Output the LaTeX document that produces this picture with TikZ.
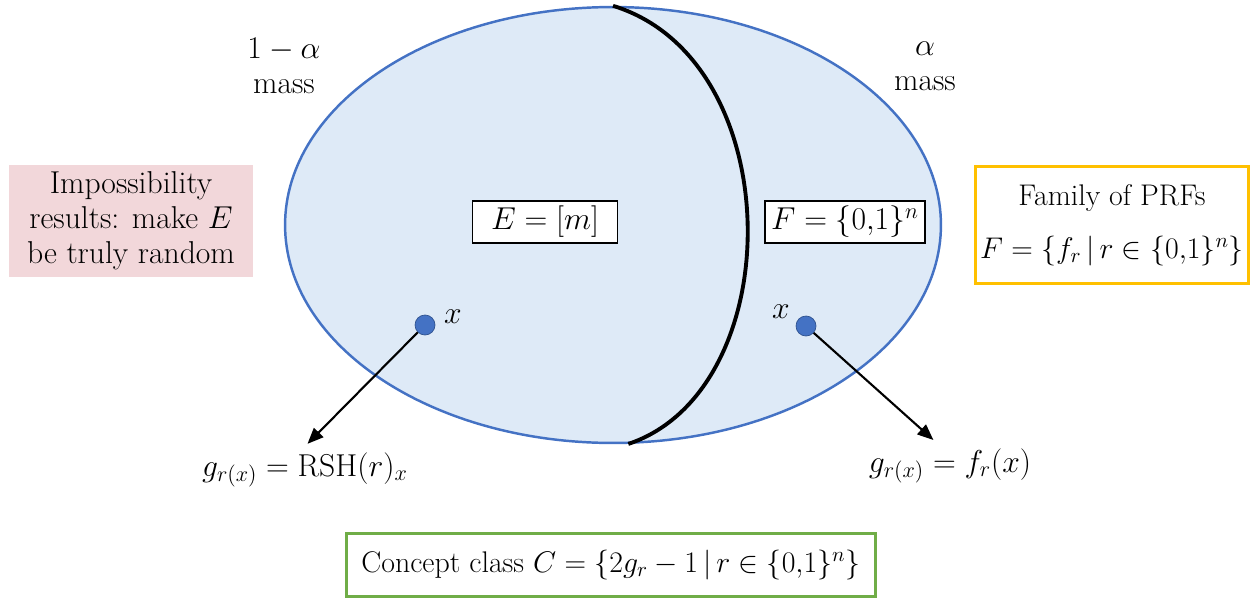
\RequirePackage{fix-cm}
\documentclass[tikz,border=0pt]{standalone}
\usepackage{amsmath,amssymb}
\usetikzlibrary{arrows.meta,positioning,shapes.geometric}
\definecolor{efill}{RGB}{222,234,247}
\definecolor{eline}{RGB}{68,114,196}
\definecolor{dotline}{RGB}{47,82,143}
\definecolor{pinkc}{RGB}{242,215,218}
\definecolor{yellc}{RGB}{255,192,0}
\definecolor{greenc}{RGB}{112,173,71}

\begin{document}
\begin{tikzpicture}[x=0.02cm, y=-0.02cm,
  every node/.style={font=\fontsize{18}{20}\selectfont},
  setbox/.style={draw, fill=white, line width=0.9pt, minimum height=0.84cm, inner sep=2pt},
  pt/.style={circle, draw=dotline, fill=eline, minimum size=0.4cm, inner sep=0pt},
  note/.style={align=center, inner sep=2pt},
  framed/.style={note, line width=1.7pt, font=\fontsize{17}{20}\selectfont},
  arr/.style={-{Triangle[length=3.2mm,width=2.6mm]}, line width=1.2pt}]
  \useasboundingbox (0,0) rectangle (1253,598);
  \node[ellipse, draw=eline, fill=efill, line width=1.4pt, minimum width=13.12cm, minimum height=8.72cm, inner sep=0pt] (dom) at (613,225) {};
  \draw[line width=2.2pt] (dom.north) .. controls (790,60) and (790,390) .. (dom.-86);
  \node[note] (lmass) at (284,66) {$1-\alpha$\\mass};
  \node[note] (rmass) at (925,66) {$\alpha$\\mass};
  \node[note, fill=pinkc, minimum width=4.9cm, minimum height=2.24cm] (imp) at (131,221) {Impossibility\\results: make $E$\\be truly random};
  \node[setbox, minimum width=2.9cm] (eset) at (545,222) {$E=[m]$};
  \node[setbox, minimum width=3.2cm] (fset) at (845,222) {$F=\{0{,}1\}^n$};
  \node[framed, draw=yellc, minimum width=5.45cm, minimum height=2.36cm] (prf) at (1112,225) {Family of PRFs\\[10pt]$F=\{f_r\,|\,r\in\{0{,}1\}^n\}$};
  \node[pt] (dl) at (425,325) {};
  \node[pt] (dr) at (806,326) {};
  \node (xl) at (453,317) {$x$};
  \node (xr) at (781,312) {$x$};
  \node (gl) at (305,470) {$g_{r(x)}=\mathrm{RSH}(r)_x$};
  \node (gr) at (950,466) {$g_{r(x)}=f_r(x)$};
  \draw[arr, shorten >=2pt] (dl) -- (gl.north);
  \draw[arr, shorten >=2pt] (dr) -- ([xshift=-0.28cm]gr.north);
  \node[framed, draw=greenc, minimum width=10.58cm, minimum height=1.26cm] (cls) at (611,565) {Concept class $C=\{2g_r-1\,|\,r\in\{0{,}1\}^n\}$};
\end{tikzpicture}
\end{document}
